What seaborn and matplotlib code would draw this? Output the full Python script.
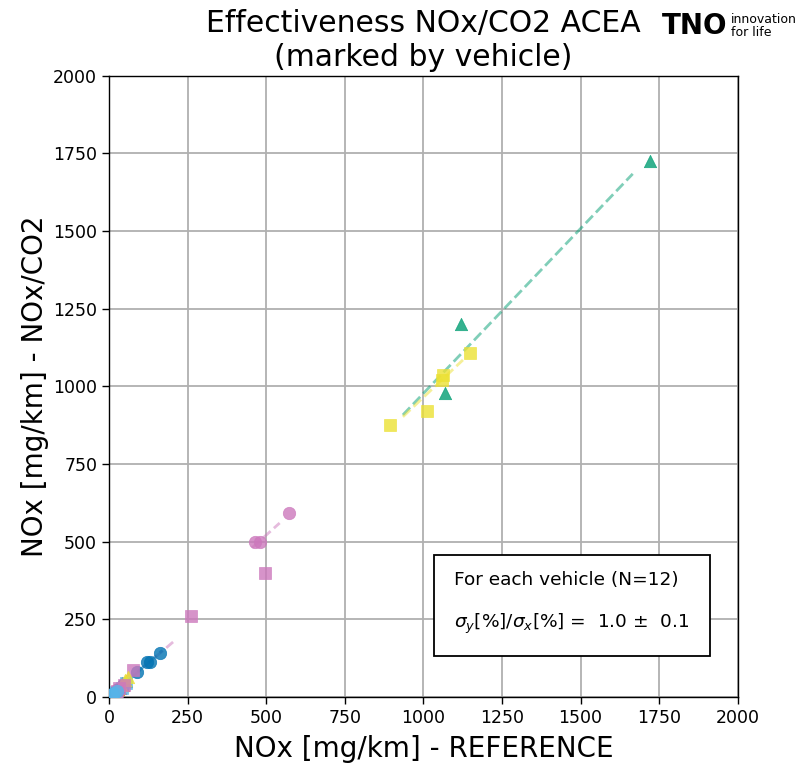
import numpy as np
import pandas as pd
import matplotlib
matplotlib.use("Agg")
import matplotlib.pyplot as plt
import seaborn as sns

# ================================================================
# DATA
# ================================================================
vehicles = ["V01", "V02", "V03", "V04", "V05", "V06",
            "V07", "V08", "V09", "V10", "V11", "V12"]
markers = ["o", "^", "^", "^", "o", "s", "s", "s", "o", "^", "s", "o"]

nox_ref = [
    [162, 130, 121, 89, 45, 30],          # blue circles
    [30, 45, 55],                          # orange triangles
    [1720, 1119, 1068],                    # green triangles
    [22, 35, 42],                          # dark orange triangles
    [572, 464, 480],                       # pink circles
    [496, 261, 76],                        # pink squares
    [893, 1011, 1062, 1060, 1148],         # yellow squares
    [40, 55, 22],                          # light blue squares
    [18, 28, 12],                          # blue circles (small)
    [50, 38, 60],                          # yellow triangles (small)
    [33, 48, 25],                          # pink squares (small)
    [15, 25, 10],                          # light blue circles (small)
]
nox_co2 = [
    [142, 113, 113, 81, 38, 25],
    [25, 40, 52],
    [1726, 1201, 979],
    [20, 30, 45],
    [593, 499, 499],
    [399, 261, 87],
    [876, 921, 1037, 1021, 1108],
    [30, 45, 15],
    [15, 22, 10],
    [55, 40, 65],
    [28, 40, 20],
    [12, 20, 8],
]
# dashed fit segments (start / end) per vehicle
fit_x = [[20, 170], [25, 60], [935, 1666], [15, 45], [455, 543], [40, 204],
         [935, 1126], [15, 60], [8, 30], [30, 65], [20, 50], [5, 28]]
fit_y = [[18, 150], [20, 55], [908, 1684], [12, 45], [480, 560], [35, 177],
         [902, 1085], [10, 48], [6, 24], [30, 68], [15, 42], [4, 22]]

palette = sns.color_palette("colorblind", 10)
color_idx = [0, 1, 2, 3, 4, 4, 8, 9, 0, 8, 4, 9]

# ================================================================
# PLOT
# ================================================================
sns.set_style("white")
plt.rcParams["font.family"] = ["DejaVu Sans"]
plt.rcParams["text.color"] = "black"
plt.rcParams["axes.labelcolor"] = "black"

fig = plt.figure(figsize=(8.01, 7.67), dpi=100)
ax = fig.add_axes([0.136, 0.0913, 0.785, 0.81])

for i, v in enumerate(vehicles):
    col = palette[color_idx[i]]
    df = pd.DataFrame({"x": nox_ref[i], "y": nox_co2[i]})
    sns.lineplot(x=fit_x[i], y=fit_y[i], ax=ax, color=col, alpha=0.5,
                 linestyle="--", linewidth=2, sort=False, zorder=2)
    sns.scatterplot(data=df, x="x", y="y", ax=ax, color=col, marker=markers[i],
                    s=80, alpha=0.8, edgecolor=col, linewidth=0.5, zorder=3)

ax.set_xlim(0, 2000)
ax.set_ylim(0, 2000)
ax.set_xticks(np.arange(0, 2001, 250))
ax.set_yticks(np.arange(0, 2001, 250))
ax.grid(True, color="#b0b0b0", linewidth=1.3)
ax.set_axisbelow(True)
for s in ax.spines.values():
    s.set_visible(True)
    s.set_color("black")
    s.set_linewidth(1.0)
ax.tick_params(axis="both", labelsize=12.5, length=5, width=1.0, direction="out",
               bottom=True, left=True, colors="black")

ax.set_xlabel("NOx [mg/km] - REFERENCE", fontsize=20, labelpad=6)
ax.set_ylabel("NOx [mg/km] - NOx/CO2", fontsize=20, labelpad=3)
ax.set_title("Effectiveness NOx/CO2 ACEA\n(marked by vehicle)", fontsize=21.5,
             linespacing=1.2, pad=7, color="black")

ax.text(1098, 300, "For each vehicle (N=12)\n\n"
        r"$\sigma_y$[%]/$\sigma_x$[%] =  1.0 $\pm$  0.1",
        fontsize=13.3, va="center", ha="left", linespacing=1.15,
        bbox=dict(boxstyle="square,pad=1.1", facecolor="white",
                  edgecolor="black", linewidth=1.3), zorder=5)

# TNO logo as text
fig.text(0.826, 0.966, "TNO", fontsize=20, fontweight="black",
         ha="left", va="center", color="black")
fig.text(0.913, 0.966, "innovation\nfor life", fontsize=9,
         ha="left", va="center", color="black", linespacing=0.95)

fig.savefig("out.png", dpi=100)
